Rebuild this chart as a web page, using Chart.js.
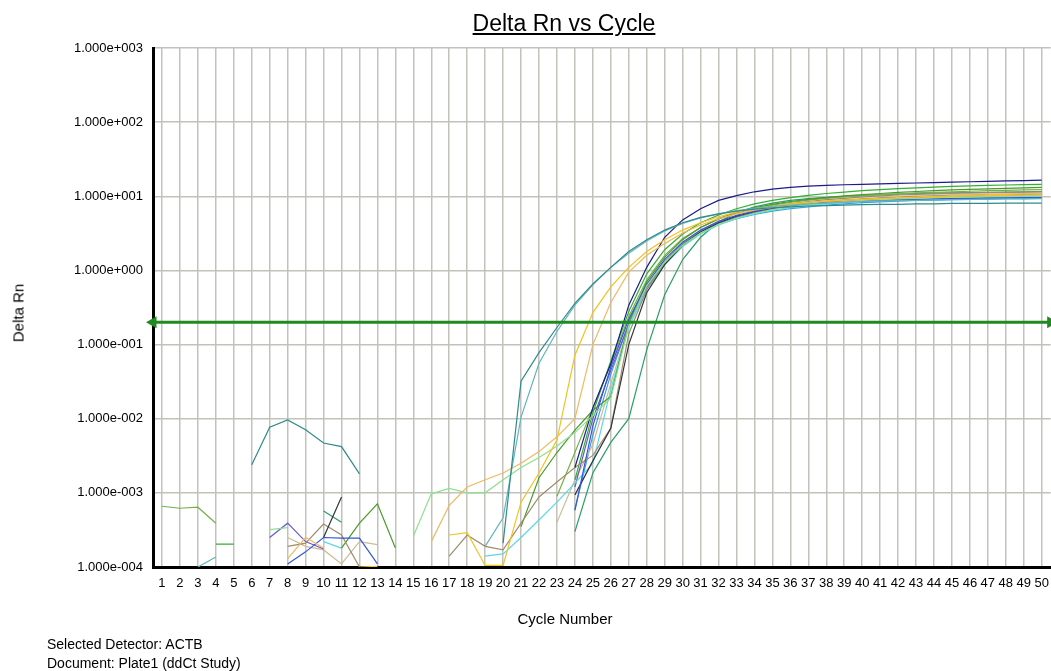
<!DOCTYPE html>
<html lang="en">
<head>
<meta charset="utf-8">
<title>Delta Rn vs Cycle</title>
<script src="https://cdn.jsdelivr.net/npm/chart.js@4.4.1/dist/chart.umd.min.js"></script>
<style>
    html, body { margin: 0; padding: 0; background: #fff; overflow: hidden; }
    body {
        width: 1051px; height: 671px; position: relative; overflow: hidden;
        font-family: 'Liberation Sans', Arial, sans-serif; color: #000;
    }
    /* холст чуть шире окна: Chart.js оставляет справа место под подпись "50",
       а сетка в оригинале доходит до самого края */
    #chart-box { position: absolute; left: 0; top: 0; width: 1058px; height: 671px; }
    .lbl { position: absolute; white-space: nowrap; line-height: 1; }
    #title   { left: 564px; top: 12px; font-size: 23px; transform: translateX(-50%); text-decoration: underline; }
    #y-title { left: 18px; top: 313px; font-size: 15px; transform: translate(-50%, -50%) rotate(-90deg); }
    #x-title { left: 565px; top: 618px; font-size: 15px; transform: translate(-50%, -50%); }
    #notes   { left: 47px; top: 635px; font-size: 14px; line-height: 19px; }
</style>
</head>
<body>
<div id="chart-box"><canvas id="delta-chart"></canvas></div>
<div class="lbl" id="title">Delta Rn vs Cycle</div>
<div class="lbl" id="y-title">Delta Rn</div>
<div class="lbl" id="x-title">Cycle Number</div>
<div class="lbl" id="notes">Selected Detector: ACTB<br>Document: Plate1 (ddCt Study)</div>

<script>
// Delta Rn по циклам (null = точка вне лог-шкалы)
const _ = null;

const cycles = [
    1, 2, 3, 4, 5, 6, 7, 8, 9, 10,
    11, 12, 13, 14, 15, 16, 17, 18, 19, 20,
    21, 22, 23, 24, 25, 26, 27, 28, 29, 30,
    31, 32, 33, 34, 35, 36, 37, 38, 39, 40,
    41, 42, 43, 44, 45, 46, 47, 48, 49, 50
];

const yTickValues = [1e-4, 1e-3, 1e-2, 1e-1, 1, 10, 100, 1000];
const yTickLabels = ['1.000e-004', '1.000e-003', '1.000e-002', '1.000e-001',
                     '1.000e+000', '1.000e+001', '1.000e+002', '1.000e+003'];

const thresholdValue = 0.2;
const thresholdSpan = [0.5, 50.5];

// ранние (Ct ~23)
const tealEarlyA = [
    _, _, _, _, _, 2.4e-3, 7.7e-3, 9.6e-3, 7.1e-3, 4.7e-3,
    4.2e-3, 1.8e-3, _, _, _, _, _, _, _, 2.1e-4,
    3.2e-2, 0.078, 0.17, 0.36, 0.66, 1.1, 1.8, 2.6, 3.5, 4.4,
    5.2, 5.8, 6.3, 6.7, 7.0, 7.2, 7.4, 7.5, 7.6, 7.7,
    7.8, 7.8, 7.9, 7.9, 8.0, 8.0, 8.0, 8.1, 8.1, 8.1
];
const tealEarlyB = [
    _, _, 1.0e-4, 1.36e-4, _, _, _, _, _, _,
    _, _, _, _, _, _, _, _, 1.9e-4, 4.6e-4,
    1.05e-2, 0.056, 0.15, 0.34, 0.64, 1.1, 1.7, 2.5, 3.4, 4.3,
    5.1, 5.8, 6.4, 6.9, 7.3, 7.6, 7.9, 8.1, 8.3, 8.5,
    8.6, 8.7, 8.8, 8.9, 9.0, 9.1, 9.1, 9.2, 9.2, 9.3
];

// жёлтые (Ct ~25)
const yellowA = [
    _, _, _, _, _, _, _, _, _, _,
    _, 1.0e-4, 1.02e-4, _, _, _, 2.7e-4, 2.9e-4, 1.05e-4, 1.05e-4,
    7.5e-4, 1.85e-3, 5.2e-3, 0.072, 0.27, 0.6, 1.1, 1.8, 2.6, 3.5,
    4.4, 5.3, 6.1, 6.8, 7.4, 7.9, 8.3, 8.6, 8.9, 9.1,
    9.3, 9.5, 9.7, 9.8, 10.0, 10.1, 10.2, 10.3, 10.4, 10.5
];
const paleOrange = [
    _, _, _, _, _, _, _, 1.3e-4, 2.5e-4, 1.8e-4,
    _, _, _, _, _, 2.2e-4, 6.8e-4, 1.2e-3, 1.5e-3, 1.85e-3,
    2.5e-3, 3.6e-3, 5.7e-3, 1.0e-2, 0.1, 0.37, 0.95, 1.6, 2.3, 3.2,
    4.1, 5.0, 5.8, 6.5, 7.1, 7.6, 8.1, 8.5, 8.8, 9.1,
    9.4, 9.6, 9.8, 10.0, 10.2, 10.3, 10.5, 10.6, 10.7, 10.8
];

// основная группа (Ct ~27)
const lightGreen = [
    _, _, _, _, _, _, 3.2e-4, 3.4e-4, _, _,
    _, _, _, _, 2.6e-4, 9.7e-4, 1.15e-3, 1.0e-3, 1.0e-3, 1.5e-3,
    2.2e-3, 3.0e-3, 4.3e-3, 6.5e-3, 1.1e-2, 1.9e-2, 0.18, 0.62, 1.3, 2.2,
    3.2, 4.2, 5.1, 5.9, 6.6, 7.2, 7.7, 8.1, 8.5, 8.8,
    9.0, 9.2, 9.4, 9.6, 9.7, 9.8, 9.9, 10.0, 10.1, 10.2
];
const navy = [
    _, _, _, _, _, _, _, _, _, _,
    _, _, _, _, _, _, _, _, _, _,
    _, _, _, 2.2e-3, 1.4e-2, 5.5e-2, 0.34, 1.1, 2.8, 4.8,
    6.8, 8.8, 10.2, 11.5, 12.5, 13.2, 13.7, 14.0, 14.3, 14.5,
    14.7, 14.9, 15.1, 15.3, 15.5, 15.7, 15.9, 16.1, 16.3, 16.5
];
const blue = [
    _, _, _, _, _, _, _, 1.1e-4, 1.6e-4, 2.5e-4,
    2.45e-4, 2.45e-4, 1.1e-4, _, _, _, _, _, _, _,
    _, _, _, 5.8e-4, 8e-3, 5e-2, 0.22, 0.65, 1.4, 2.4,
    3.5, 4.6, 5.5, 6.3, 7.0, 7.5, 7.9, 8.2, 8.5, 8.7,
    8.9, 9.0, 9.1, 9.2, 9.3, 9.4, 9.5, 9.5, 9.6, 9.6
];
const darkSlate = [
    _, _, _, _, _, _, _, _, _, 2.5e-4,
    8.8e-4, _, _, _, _, _, _, _, _, _,
    _, _, _, 9.4e-4, 2.7e-3, 7.4e-3, 0.1, 0.5, 1.2, 2.2,
    3.3, 4.4, 5.4, 6.2, 6.9, 7.5, 8.0, 8.4, 8.8, 9.1,
    9.4, 9.6, 9.8, 10.0, 10.1, 10.2, 10.3, 10.4, 10.5, 10.5
];
const brownGray = [
    _, _, _, _, _, _, _, 1.9e-4, 2.1e-4, 3.8e-4,
    2.7e-4, 1.0e-4, _, _, _, _, 1.4e-4, 2.7e-4, 1.9e-4, 1.7e-4,
    3.9e-4, 8.8e-4, 1.4e-3, 2.2e-3, 3.2e-3, 7.5e-3, 0.14, 0.55, 1.3, 2.3,
    3.4, 4.5, 5.5, 6.4, 7.2, 7.9, 8.5, 9.0, 9.4, 9.8,
    10.1, 10.4, 10.6, 10.8, 11.0, 11.1, 11.2, 11.3, 11.4, 11.5
];
const green = [
    _, _, _, _, _, _, _, _, _, _,
    1.8e-4, 3.9e-4, 7.1e-4, 1.8e-4, _, _, _, _, _, _,
    3.5e-4, 1.6e-3, 3.5e-3, 7e-3, 1.3e-2, 2.0e-2, 0.2, 0.7, 1.5, 2.6,
    3.8, 5.0, 6.1, 7.0, 7.8, 8.5, 9.1, 9.6, 10.1, 10.5,
    10.9, 11.3, 11.6, 11.9, 12.2, 12.4, 12.6, 12.8, 13.0, 13.2
];
const brightGreen = [
    _, _, _, 2.04e-4, 2.04e-4, _, _, _, _, _,
    _, _, _, _, _, _, _, _, _, _,
    _, _, _, 1.5e-3, 1.2e-2, 6e-2, 0.28, 0.9, 1.9, 3.1,
    4.4, 5.6, 6.8, 7.9, 8.8, 9.6, 10.3, 10.9, 11.4, 11.9,
    12.3, 12.7, 13.0, 13.3, 13.6, 13.8, 14.0, 14.2, 14.4, 14.5
];
const cyan = [
    _, _, _, _, _, _, _, _, _, 2.2e-4,
    1.8e-4, _, _, _, _, _, _, _, 1.4e-4, 1.5e-4,
    2.5e-4, 4.3e-4, 7.5e-4, 1.35e-3, 2.5e-3, 2.5e-2, 0.17, 0.55, 1.2, 2.1,
    3.1, 4.1, 5.0, 5.8, 6.5, 7.0, 7.5, 7.9, 8.2, 8.5,
    8.7, 8.9, 9.1, 9.2, 9.4, 9.5, 9.6, 9.7, 9.8, 9.8
];
const yellowGreen = [
    6.6e-4, 6.2e-4, 6.4e-4, 3.9e-4, _, _, _, _, _, _,
    _, _, _, _, _, _, _, _, _, _,
    _, _, 9e-4, 3.5e-3, 1.4e-2, 5.5e-2, 0.24, 0.75, 1.6, 2.7,
    3.8, 4.9, 5.9, 6.8, 7.6, 8.3, 8.9, 9.4, 9.8, 10.2,
    10.5, 10.8, 11.1, 11.3, 11.5, 11.7, 11.9, 12.0, 12.2, 12.3
];
const slateBlue = [
    _, _, _, _, _, _, 2.5e-4, 3.9e-4, 2.2e-4, 1.75e-4,
    _, _, _, _, _, _, _, _, _, _,
    _, _, _, 1.2e-3, 1.0e-2, 4.5e-2, 0.19, 0.6, 1.3, 2.3,
    3.3, 4.3, 5.2, 6.0, 6.7, 7.3, 7.8, 8.2, 8.6, 8.9,
    9.2, 9.5, 9.7, 9.9, 10.1, 10.2, 10.3, 10.4, 10.5, 10.6
];
const tan = [
    _, _, _, _, _, _, _, 2.5e-4, 1.9e-4, 1.7e-4,
    1.1e-4, 2.2e-4, 2.0e-4, _, _, _, _, _, _, _,
    _, _, 4e-4, 1.5e-3, 4.5e-3, 3e-2, 0.18, 0.58, 1.3, 2.3,
    3.4, 4.5, 5.5, 6.3, 7.0, 7.6, 8.1, 8.6, 9.0, 9.3,
    9.6, 9.9, 10.1, 10.3, 10.5, 10.6, 10.7, 10.8, 10.9, 11.0
];
const skyBlue = [
    _, _, _, _, _, _, _, _, _, _,
    _, _, _, _, _, _, _, _, _, _,
    _, _, _, 6e-4, 6e-3, 4e-2, 0.19, 0.6, 1.3, 2.2,
    3.2, 4.2, 5.0, 5.7, 6.3, 6.8, 7.2, 7.6, 7.9, 8.2,
    8.4, 8.6, 8.8, 8.9, 9.0, 9.1, 9.2, 9.3, 9.3, 9.4
];

// поздняя (Ct ~28.5)
const seaGreenLate = [
    _, _, _, _, _, _, _, _, _, 5.7e-4,
    4.0e-4, _, _, _, _, _, _, _, _, _,
    _, _, _, 3e-4, 1.85e-3, 4.8e-3, 1.0e-2, 0.085, 0.47, 1.4,
    2.8, 4.5, 6.0, 7.2, 8.1, 8.8, 9.3, 9.7, 10.0, 10.3,
    10.5, 10.7, 10.9, 11.0, 11.1, 11.2, 11.3, 11.4, 11.5, 11.6
];

const wells = [
    { values: tealEarlyA,   color: '#2f8a8c' },
    { values: tealEarlyB,   color: '#64b4be' },
    { values: yellowA,      color: '#f2c21e' },
    { values: paleOrange,   color: '#f0b860' },
    { values: lightGreen,   color: '#8ee08e' },
    { values: navy,         color: '#1c1c8c' },
    { values: blue,         color: '#3356dc' },
    { values: darkSlate,    color: '#2f3640' },
    { values: brownGray,    color: '#a08c6c' },
    { values: green,        color: '#4a9a2a' },
    { values: brightGreen,  color: '#30b030' },
    { values: cyan,         color: '#5ad8ea' },
    { values: yellowGreen,  color: '#78b048' },
    { values: slateBlue,    color: '#6a5acd' },
    { values: tan,          color: '#cdbb95' },
    { values: skyBlue,      color: '#3a9ee0' },
    { values: seaGreenLate, color: '#2a9d68' }
];

(function () {
    'use strict';

    const FONT = "'Liberation Sans', Arial, sans-serif";
    const GRID = '#c2c2ba';

    Chart.defaults.font.family = FONT;
    Chart.defaults.color = '#000';

    function toPoints(values) {
        return values.map((v, i) => ({ x: cycles[i], y: v }));
    }

    const datasets = [
        {
            // порог, рисуется поверх кривых
            data: thresholdSpan.map(x => ({ x, y: thresholdValue })),
            borderColor: '#1f8a1f',
            backgroundColor: '#1f8a1f',
            borderWidth: 3,
            pointRadius: 4,
            pointStyle: 'triangle',
            pointRotation: ctx => ctx.dataIndex === 0 ? -90 : 90,
            clip: false
        }
    ].concat(wells.map(w => ({
        data: toPoints(w.values),
        borderColor: w.color,
        borderWidth: 1.2,
        pointRadius: 0,
        spanGaps: false,
        tension: 0
    })));

    new Chart(document.getElementById('delta-chart'), {
        type: 'line',
        data: { datasets },
        options: {
            responsive: true,
            maintainAspectRatio: false,
            animation: false,
            layout: { padding: { top: 48, left: 0, right: 0, bottom: 0 } },
            plugins: {
                legend: { display: false },
                tooltip: { enabled: false }
            },
            scales: {
                x: {
                    type: 'linear',
                    min: thresholdSpan[0],
                    max: thresholdSpan[1],
                    afterBuildTicks(scale) { scale.ticks = cycles.map(v => ({ value: v })); },
                    afterFit(scale) { scale.height = 104; },
                    grid: { color: GRID, lineWidth: 1.5, drawTicks: false },
                    border: { color: '#000', width: 3 },
                    ticks: {
                        autoSkip: false,
                        maxRotation: 0,
                        padding: 9,
                        font: { size: 13 },
                        callback: v => String(v)
                    }
                },
                y: {
                    type: 'logarithmic',
                    min: yTickValues[0],
                    max: yTickValues[yTickValues.length - 1],
                    afterBuildTicks(scale) { scale.ticks = yTickValues.map(v => ({ value: v })); },
                    afterFit(scale) { scale.width = 153; },
                    grid: { color: GRID, lineWidth: 1.5, drawTicks: false },
                    border: { color: '#000', width: 3 },
                    ticks: {
                        padding: 10,
                        font: { size: 13 },
                        callback: (v, i) => yTickLabels[i]
                    }
                }
            }
        }
    });
})();
</script>
</body>
</html>
